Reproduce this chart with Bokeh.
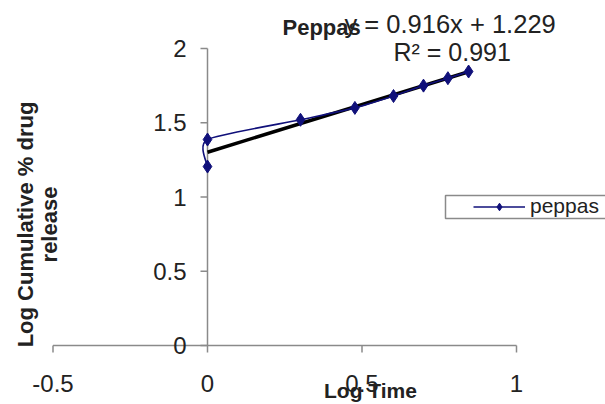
import numpy as np
from bokeh.plotting import figure
from bokeh.models import Range1d, Legend, LegendItem
from bokeh.embed import file_html
from bokeh.resources import INLINE
from bokeh.core.properties import value

# ---- data ----
log_time = [0.0, 0.0, 0.301, 0.477, 0.602, 0.699, 0.778, 0.845]
log_release = [1.205, 1.387, 1.52, 1.60, 1.68, 1.75, 1.80, 1.845]
x_ticks = [-0.5, 0, 0.5, 1]
x_tick_labels = ["-0.5", "0", "0.5", "1"]
y_ticks = [0, 0.5, 1, 1.5, 2]
y_tick_labels = ["0", "0.5", "1", "1.5", "2"]
series_name = "peppas"
chart_title = "Peppas"
equation_text = "y = 0.916x + 1.229"
r2_text = "R² = 0.991"
x_title = "Log Time"
y_title_lines = ["Log Cumulative % drug", "release"]

FONT = "Liberation Sans"
TXT = "#222222"
AX = "#8a8a8a"
NAVY = "#10107a"

# ---- layout (pixels) ----
W, H = 605, 404
X0_PX, PX_PER_X = 207, 309.0     # pixel column of x = 0, pixels per x unit
Y0_PX, PX_PER_Y = 345, 148.5     # pixel row of y = 0, pixels per y unit


def dx(px):  # pixel column -> data x
    return (px - X0_PX) / PX_PER_X


def dy(py):  # pixel row -> data y
    return (Y0_PX - py) / PX_PER_Y


p = figure(width=W, height=H, output_backend="svg", toolbar_location=None,
           x_range=Range1d(dx(0), dx(W)), y_range=Range1d(dy(H), dy(0)),
           x_axis_location=None, y_axis_location=None,
           min_border_left=0, min_border_right=0, min_border_top=0, min_border_bottom=0)
p.grid.visible = False
p.outline_line_color = None
p.background_fill_color = "white"
p.border_fill_color = "white"

# ---- x axis (at y = 0) ----
p.segment(x0=[min(x_ticks)], y0=[0], x1=[max(x_ticks)], y1=[0], line_color=AX, line_width=1.5)
p.ray(x=x_ticks, y=[0] * len(x_ticks), length=7, length_units="screen", angle=-np.pi / 2,
      line_color=AX, line_width=1.5)
p.text(x=x_ticks, y=[dy(Y0_PX + 38)] * len(x_ticks), text=x_tick_labels,
       text_font=value(FONT), text_font_size="24px", text_color=TXT,
       text_align="center", text_baseline="middle")

# ---- y axis (at x = 0) ----
p.segment(x0=[0], y0=[min(y_ticks)], x1=[0], y1=[max(y_ticks)], line_color=AX, line_width=1.5)
p.ray(x=[0] * len(y_ticks), y=y_ticks, length=7, length_units="screen", angle=np.pi,
      line_color=AX, line_width=1.5)
p.text(x=[dx(X0_PX - 21)] * len(y_ticks), y=y_ticks, text=y_tick_labels,
       text_font=value(FONT), text_font_size="24px", text_color=TXT,
       text_align="right", text_baseline="middle")

# ---- trend line (least squares of the data) ----
xs = np.array(log_time)
ys = np.array(log_release)
slope, intercept = np.polyfit(xs, ys, 1)
tx = [xs.min(), xs.max()]
p.line(x=tx, y=[intercept + slope * v for v in tx], line_color="black", line_width=3.5)

# ---- smoothed series line (cubic Bezier through the points) ----
n = len(xs)
bx0, by0, bx1, by1, c0x, c0y, c1x, c1y = ([] for _ in range(8))
k = 9.0
for i in range(n - 1):
    pi_ = i - 1 if i > 0 else i
    ni = i + 2 if i + 2 < n else i + 1
    bx0.append(xs[i]); by0.append(ys[i]); bx1.append(xs[i + 1]); by1.append(ys[i + 1])
    c0x.append(xs[i] + (xs[i + 1] - xs[pi_]) / k); c0y.append(ys[i] + (ys[i + 1] - ys[pi_]) / k)
    c1x.append(xs[i + 1] - (xs[ni] - xs[i]) / k); c1y.append(ys[i + 1] - (ys[ni] - ys[i]) / k)
bez = p.bezier(x0=bx0, y0=by0, x1=bx1, y1=by1, cx0=c0x, cy0=c0y, cx1=c1x, cy1=c1y,
               line_color=NAVY, line_width=1.6)
pts = p.scatter(x=log_time, y=log_release, marker="diamond", size=13,
                fill_color=NAVY, line_color=NAVY)

# ---- legend (box running off the right edge, as in the reference) ----
p.quad(left=[dx(445)], right=[dx(W + 20)], bottom=[dy(218)], top=[dy(195)],
       fill_color="white", line_color=AX, line_width=1.5)
legend = Legend(items=[LegendItem(label=series_name, renderers=[bez, pts])],
                location=(473, H - 218), orientation="vertical")
legend.label_text_font = FONT
legend.label_text_font_size = "21px"
legend.label_text_color = TXT
legend.glyph_width = 52
legend.glyph_height = 19
legend.label_height = 19
legend.label_standoff = 5
legend.padding = 2
legend.margin = 0
legend.spacing = 0
legend.border_line_color = None
legend.background_fill_alpha = 0
p.add_layout(legend)


# ---- texts ----
def txt(text, px, py, size, bold=False, angle=0.0, align="left"):
    p.text(x=[dx(px)], y=[dy(py)], text=[text], angle=angle,
           text_font=value(FONT), text_font_size=size, text_color=TXT,
           text_font_style="bold" if bold else "normal",
           text_align=align, text_baseline="middle")


txt(chart_title, 282, 27, "22px", bold=True)
txt(equation_text, 344, 23, "25.5px")
txt(r2_text, 393, 51, "25px")
txt(x_title, 370, 390, "21px", bold=True, align="center")
txt(y_title_lines[0], 25, 224, "22px", bold=True, angle=np.pi / 2, align="center")
txt(y_title_lines[1], 49, 224, "22px", bold=True, angle=np.pi / 2, align="center")

open("out.html", "w").write(file_html(p, INLINE))
